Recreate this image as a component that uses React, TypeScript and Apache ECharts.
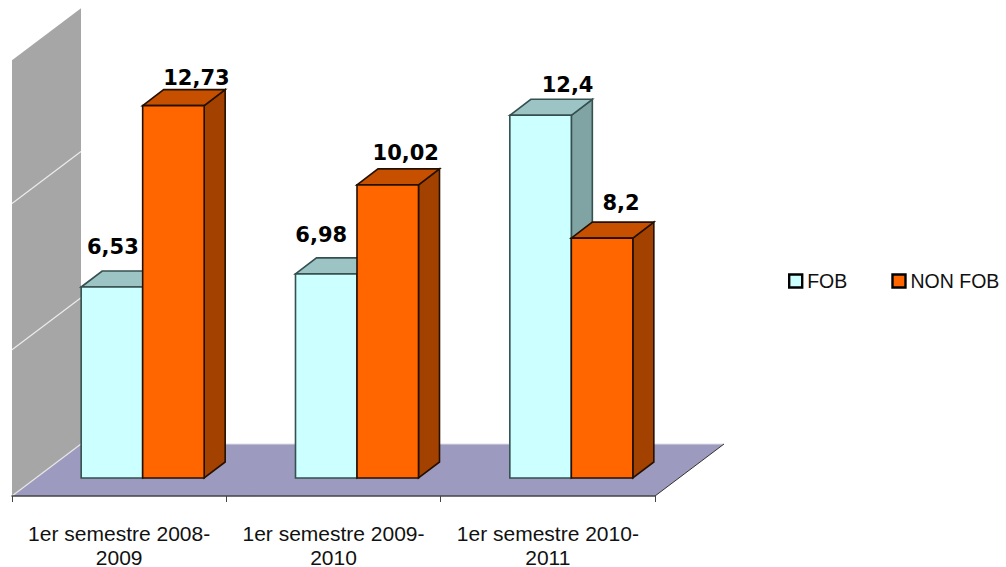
import React, { useEffect, useRef } from "react";
import * as echarts from "echarts";

const categories = ["1er semestre 2008-2009", "1er semestre 2009-2010", "1er semestre 2010-2011"];
const fobValues = [6.53, 6.98, 12.4];
const nonFobValues = [12.73, 10.02, 8.2];
const fobLabels = ["6,53", "6,98", "12,4"];
const nonFobLabels = ["12,73", "10,02", "8,2"];
const wallTicks = [5, 10];

const BAR_W = 61.5;
const BAR_SHIFT = 23.5;
const FRONT_DY = 18;
const DEPTH_X = 21;
const DEPTH_Y = 16;
const FOB_NUDGE = [[1, -40], [-5, -39], [27, -30]];
const NON_NUDGE = [[23, -28], [18, -32], [19, -35]];

const poly = (points: number[][], fill: string, stroke: string, lineWidth = 1.6) => ({
  type: "polygon",
  shape: { points },
  style: { fill, stroke, lineWidth },
});

function barItem(
  labels: string[],
  nudge: number[][],
  start: number,
  colors: { front: string; top: string; side: string; stroke: string },
) {
  return (params: any, api: any) => {
    const i = api.value(0);
    const v = api.value(1);
    const top = api.coord([i, v]);
    const base = api.coord([i, 0]);
    const x0 = top[0] + BAR_SHIFT + start;
    const x1 = x0 + BAR_W;
    const yT = top[1] - FRONT_DY;
    const yB = base[1] - FRONT_DY;
    return {
      type: "group",
      children: [
        poly([[x1, yT], [x1 + DEPTH_X, yT - DEPTH_Y], [x1 + DEPTH_X, yB - DEPTH_Y], [x1, yB]], colors.side, colors.stroke),
        poly([[x0, yT], [x0 + DEPTH_X, yT - DEPTH_Y], [x1 + DEPTH_X, yT - DEPTH_Y], [x1, yT]], colors.top, colors.stroke),
        poly([[x0, yT], [x1, yT], [x1, yB], [x0, yB]], colors.front, colors.stroke),
        {
          type: "text",
          z2: 50,
          style: {
            text: labels[i],
            x: (x0 + x1) / 2 + nudge[i][0],
            y: yT + nudge[i][1],
            align: "center",
            verticalAlign: "middle",
            fill: "#000",
            font: 'bold 21px "DejaVu Sans"',
          },
        },
      ],
    };
  };
}

function backdrop(params: any, api: any) {
  const cs = params.coordSys;
  const left = cs.x;
  const right = cs.x + cs.width;
  const y0 = api.coord([0, 0])[1];
  const yMax = api.coord([0, 15])[1] + 3;
  const dx = 69;
  const dy = 52;
  const gridLine = (y: number, color: string) => ({
    type: "line",
    shape: { x1: left, y1: y, x2: left + dx, y2: y - dy },
    style: { stroke: color, lineWidth: 1.2 },
  });
  return {
    type: "group",
    children: [
      {
        type: "polygon",
        shape: { points: [[left, y0], [left, yMax], [left + dx, yMax - dy], [left + dx, y0 - dy]] },
        style: { fill: "#a6a6a6" },
      },
      {
        type: "polygon",
        shape: { points: [[left, y0], [left + dx, y0 - dy], [right + dx, y0 - dy], [right, y0]] },
        style: { fill: "#9c9bbf" },
      },
      { type: "line", shape: { x1: left + dx, y1: y0 - dy, x2: right + dx, y2: y0 - dy }, style: { stroke: "#dcdce6", lineWidth: 1 } },
      { type: "line", shape: { x1: right, y1: y0, x2: right + dx, y2: y0 - dy }, style: { stroke: "#333", lineWidth: 1 } },
      gridLine(y0, "#e6e6e6"),
      ...wallTicks.map((t) => gridLine(api.coord([0, t])[1], "#ececec")),
    ],
  };
}

export default function App() {
  const ref = useRef<HTMLDivElement>(null);
  useEffect(() => {
    document.body.style.margin = "0";
    const chart = echarts.init(ref.current!, undefined, { renderer: "svg" });
    chart.setOption({
      animation: false,
      backgroundColor: "#fff",
      grid: { left: 12, top: 57.25, width: 643, height: 438.75, outerBoundsMode: "none" },
      legend: {
        left: 788,
        top: 271,
        width: 218,
        padding: 0,
        orient: "horizontal",
        data: ["FOB", "NON FOB"],
        icon: "rect",
        itemWidth: 13,
        itemHeight: 13,
        itemGap: 44,
        itemStyle: { borderColor: "#000", borderWidth: 2.4 },
        textStyle: { fontFamily: "Liberation Sans", fontSize: 19.5, color: "#111" },
      },
      xAxis: {
        type: "category",
        data: categories,
        z: 10,
        axisLine: { show: true, lineStyle: { color: "#444", width: 1.5 } },
        axisTick: { show: true, length: 6, lineStyle: { color: "#444" } },
        axisLabel: {
          interval: 0,
          margin: 25,
          lineHeight: 24,
          fontFamily: "Liberation Sans",
          fontSize: 21,
          color: "#111",
          formatter: (v: string) => v.replace("-", "-\n"),
        },
      },
      yAxis: { type: "value", min: 0, max: 15, show: false },
      series: [
        { type: "custom", name: "wall", silent: true, clip: false, data: [[0, 0]], renderItem: backdrop, z: 1 },
        {
          type: "custom",
          name: "FOB",
          clip: false,
          z: 2,
          itemStyle: { color: "#ccffff" },
          data: fobValues.map((v, i) => [i, v]),
          renderItem: barItem(fobLabels, FOB_NUDGE, -BAR_W, { front: "#ccffff", top: "#9cc4c4", side: "#80a3a3", stroke: "#34504f" }),
        },
        {
          type: "custom",
          name: "NON FOB",
          clip: false,
          z: 3,
          itemStyle: { color: "#ff6600" },
          data: nonFobValues.map((v, i) => [i, v]),
          renderItem: barItem(nonFobLabels, NON_NUDGE, 0, { front: "#ff6600", top: "#c75000", side: "#a34100", stroke: "#241000" }),
        },
      ],
    });
    return () => chart.dispose();
  }, []);
  return <div ref={ref} style={{ width: 1006, height: 567 }} />;
}
